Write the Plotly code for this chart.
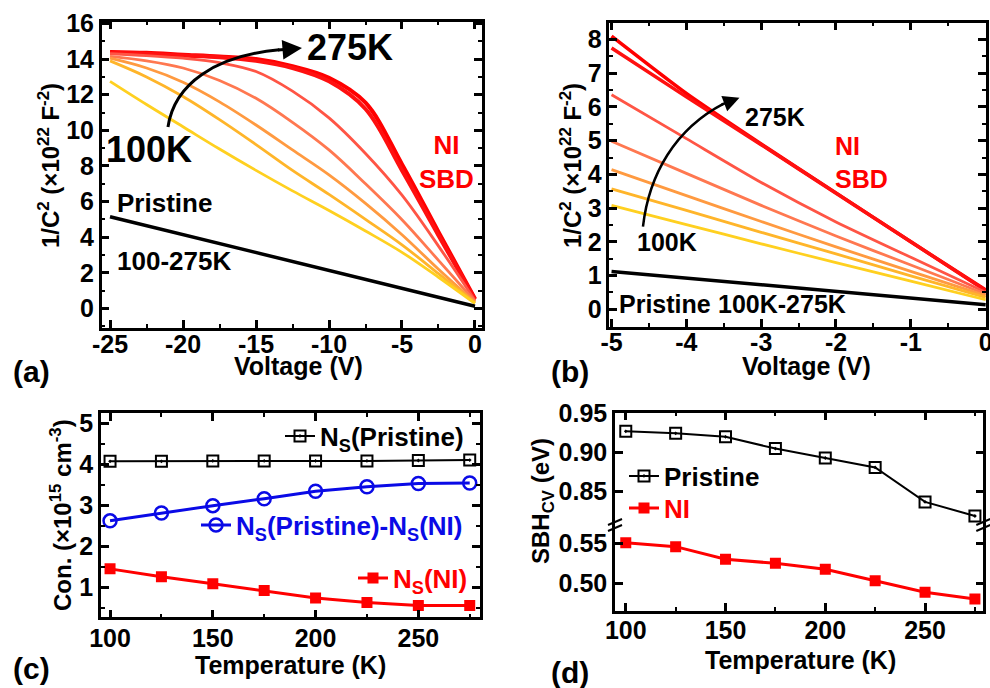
import plotly.graph_objects as go

FONT = "Liberation Sans"
W, H = 990, 688

def px(x):
    return x / W

def py(y):
    return 1 - y / H

# ---------------- data ----------------
# panel (a): 1/C^2 vs voltage, -25..0 V
volt_a = [-25, -22.5, -20, -17.5, -15, -12.5, -10, -7.5, -5, -2.5, 0]
ni_a_275 = [14.4, 14.35, 14.25, 14.15, 14.0, 13.6, 12.95, 11.55, 8.1, 4.3, 0.55]
ni_a_250 = [14.35, 14.3, 14.2, 14.1, 13.9, 13.5, 12.75, 11.2, 7.75, 4.1, 0.5]
ni_a_225 = [14.3, 14.2, 14.05, 13.8, 13.3, 12.2, 10.7, 8.7, 6.36, 3.5, 0.45]
ni_a_200 = [14.15, 13.9, 13.5, 12.8, 11.8, 10.45, 8.9, 7.0, 4.98, 2.7, 0.4]
ni_a_175 = [14.05, 13.5, 12.7, 11.6, 10.3, 8.9, 7.5, 5.9, 4.14, 2.2, 0.35]
ni_a_150 = [13.9, 13.0, 11.9, 10.6, 9.2, 7.75, 6.4, 5.0, 3.57, 1.95, 0.3]
ni_a_100 = [12.75, 11.45, 10.2, 8.95, 7.75, 6.6, 5.5, 4.35, 3.15, 1.75, 0.28]
volt_a_pr = [-25, -20, -15, -10, -5, 0]
pristine_a = [5.15, 4.15, 3.15, 2.15, 1.12, 0.12]
ticks_a_x = [-25, -20, -15, -10, -5, 0]
ticks_a_x_text = ["-25", "-20", "-15", "-10", "-5", "0"]

# panel (b): 1/C^2 vs voltage, -5..0 V
volt_b = [-5, -4, -3, -2, -1, 0]
ni_b_275 = [8.10, 6.40, 4.90, 3.45, 2.0, 0.57]
ni_b_250 = [7.75, 6.30, 4.88, 3.44, 2.0, 0.55]
ni_b_225 = [6.36, 5.06, 3.76, 2.59, 1.54, 0.50]
ni_b_200 = [4.98, 4.03, 3.08, 2.17, 1.31, 0.45]
ni_b_175 = [4.14, 3.37, 2.60, 1.85, 1.12, 0.40]
ni_b_150 = [3.57, 2.93, 2.28, 1.64, 0.99, 0.35]
ni_b_100 = [3.08, 2.51, 1.94, 1.38, 0.83, 0.28]
pristine_b = [1.12, 0.92, 0.72, 0.53, 0.33, 0.13]
ticks_b_x = [-5, -4, -3, -2, -1, 0]
ticks_b_x_text = ["-5", "-4", "-3", "-2", "-1", "0"]

curve_colors = ["#FF0000", "#FF1010", "#FF5545", "#FF7850", "#FF9A40", "#FFB52A", "#FFD020"]
curve_widths = [4, 4, 2.8, 2.8, 2.8, 2.8, 2.8]

# panel (c): concentrations vs temperature
temp = [100, 125, 150, 175, 200, 225, 250, 275]
ns_pristine = [4.07, 4.07, 4.08, 4.08, 4.08, 4.08, 4.09, 4.10]
ns_diff = [2.62, 2.81, 2.99, 3.16, 3.34, 3.45, 3.53, 3.54]
ns_ni = [1.45, 1.26, 1.09, 0.92, 0.74, 0.63, 0.56, 0.56]

# panel (d): SBH vs temperature
sbh_pristine = [0.927, 0.9245, 0.920, 0.905, 0.893, 0.881, 0.837, 0.819]
sbh_ni = [0.5508, 0.5458, 0.530, 0.525, 0.5175, 0.5033, 0.4888, 0.4804]

fig = go.Figure()

# ---- panel (a)
a_sets = [ni_a_275, ni_a_250, ni_a_225, ni_a_200, ni_a_175, ni_a_150, ni_a_100]
for vals, c, w in zip(a_sets, curve_colors, curve_widths):
    fig.add_trace(go.Scatter(x=volt_a, y=vals, mode="lines", xaxis="x", yaxis="y",
                             line=dict(color=c, width=w, shape="spline", smoothing=1.0),
                             showlegend=False, hoverinfo="skip"))
fig.add_trace(go.Scatter(x=volt_a_pr, y=pristine_a, mode="lines", xaxis="x", yaxis="y",
                         line=dict(color="black", width=3.5), showlegend=False))

# ---- panel (b)
b_sets = [ni_b_275, ni_b_250, ni_b_225, ni_b_200, ni_b_175, ni_b_150, ni_b_100]
for vals, c, w in zip(b_sets, curve_colors, curve_widths):
    fig.add_trace(go.Scatter(x=volt_b, y=vals, mode="lines", xaxis="x2", yaxis="y2",
                             line=dict(color=c, width=min(w, 3.5), shape="spline", smoothing=0.6),
                             showlegend=False, hoverinfo="skip"))
fig.add_trace(go.Scatter(x=volt_b, y=pristine_b, mode="lines", xaxis="x2", yaxis="y2",
                         line=dict(color="black", width=3.5), showlegend=False))

# ---- panel (c)
fig.add_trace(go.Scatter(x=temp, y=ns_pristine, mode="lines+markers", xaxis="x3", yaxis="y3",
                         name="N<sub>S</sub>(Pristine)", legend="legend",
                         line=dict(color="black", width=2),
                         marker=dict(symbol="square-open-dot", size=11, color="black",
                                     line=dict(width=2, color="black"))))
fig.add_trace(go.Scatter(x=temp, y=ns_diff, mode="lines+markers", xaxis="x3", yaxis="y3",
                         name="N<sub>S</sub>(Pristine)-N<sub>S</sub>(NI)", legend="legend2",
                         line=dict(color="#0A0AE6", width=3),
                         marker=dict(symbol="circle-open", size=13, color="#0A0AE6",
                                     line=dict(width=2.5, color="#0A0AE6"))))
fig.add_trace(go.Scatter(x=temp, y=ns_ni, mode="lines+markers", xaxis="x3", yaxis="y3",
                         name="N<sub>S</sub>(NI)", legend="legend3",
                         line=dict(color="#FF0000", width=3),
                         marker=dict(symbol="square", size=11, color="#FF0000")))

# ---- panel (d)
fig.add_trace(go.Scatter(x=temp, y=sbh_pristine, mode="lines+markers", xaxis="x5", yaxis="y5",
                         name="Pristine", legend="legend4",
                         line=dict(color="black", width=2),
                         marker=dict(symbol="square-open-dot", size=11, color="black",
                                     line=dict(width=2, color="black"))))
fig.add_trace(go.Scatter(x=temp, y=sbh_ni, mode="lines+markers", xaxis="x4", yaxis="y4",
                         name="NI", legend="legend5",
                         line=dict(color="#FF0000", width=3),
                         marker=dict(symbol="square", size=11, color="#FF0000")))

tickfont = dict(family=FONT, size=25, color="black", weight="bold")

def axis(domain, rng, dtick, minor_dtick=None, anchor=None, mirror="allticks", **kw):
    d = dict(domain=domain, range=rng, dtick=dtick, tick0=0, showline=True, linewidth=2.5,
             linecolor="black", mirror=mirror, ticks="inside", ticklen=8, tickwidth=2.5,
             tickcolor="black", showgrid=False, zeroline=False, tickfont=tickfont,
             anchor=anchor, fixedrange=True, automargin=False, ticklabeloverflow="allow")
    if minor_dtick:
        d["minor"] = dict(dtick=minor_dtick, ticks="inside", ticklen=4, tickwidth=2,
                          tickcolor="black", showgrid=False)
    d.update(kw)
    return d

fig.update_layout(
    width=W, height=H, margin=dict(l=0, r=0, t=0, b=0, pad=0, autoexpand=False),
    paper_bgcolor="white", plot_bgcolor="white",
    font=dict(family=FONT, size=25, color="black", weight="bold"),
    xaxis=axis([px(101.7), px(481.7)], [-25.57, 0.46], 5, 2.5, anchor="y",
               tickmode="array", tickvals=ticks_a_x, ticktext=ticks_a_x_text,
               ticklabelstandoff=-8),
    yaxis=axis([py(328), py(21.7)], [-1.1, 16.1], 2, 1, anchor="x"),
    xaxis2=axis([px(609.3), px(986)], [-5.03, 0.005], 1, 0.5, anchor="y2",
                tickmode="array", tickvals=ticks_b_x, ticktext=ticks_b_x_text,
                ticklabelstandoff=-8),
    yaxis2=axis([py(326.7), py(22.7)], [-0.52, 8.5], 1, 0.5, anchor="x2"),
    xaxis3=axis([px(101), px(480)], [95.6, 280], 50, 25, anchor="y3", ticklabelstandoff=-3),
    yaxis3=axis([py(617.3), py(413.3)], [0.27, 5.24], 1, 0.5, anchor="x3"),
    xaxis4=axis([px(615), px(983.3)], [94.6, 279.2], 50, 25, anchor="y4", mirror=False,
                ticklabelstandoff=-4),
    yaxis4=axis([py(610.7), py(525)], [0.4657, 0.5729], 0.05, None, anchor="x4",
                tickformat=".2f"),
    xaxis5=axis([px(615), px(983.3)], [94.6, 279.2], 50, 25, anchor="y5", mirror=False,
                side="top", showticklabels=False),
    yaxis5=axis([py(525), py(412.7)], [0.8075, 0.9508], 0.05, None, anchor="x5",
                tickformat=".2f"),
)

leg_common = dict(bgcolor="rgba(0,0,0,0)", borderwidth=0, itemwidth=30,
                  yanchor="middle", xanchor="left", tracegroupgap=0,
                  itemclick=False, itemdoubleclick=False)
fig.update_layout(
    legend=dict(x=px(280), y=py(436), font=dict(family=FONT, size=26, color="black", weight="bold"), **leg_common),
    legend2=dict(x=px(196), y=py(525), font=dict(family=FONT, size=26, color="#0A0AE6", weight="bold"), **leg_common),
    legend3=dict(x=px(353), y=py(578), font=dict(family=FONT, size=26, color="#FF0000", weight="bold"), **leg_common),
    legend4=dict(x=px(624), y=py(476), font=dict(family=FONT, size=26, color="black", weight="bold"), **leg_common),
    legend5=dict(x=px(624), y=py(508), font=dict(family=FONT, size=26, color="#FF0000", weight="bold"), **leg_common),
)

anns = []

def text(t, x, y, size=25, color="black", angle=0, xanchor="center", align="center"):
    anns.append(dict(text=t, x=px(x), y=py(y), xref="paper", yref="paper", showarrow=False,
                     textangle=angle, xanchor=xanchor, yanchor="middle", align=align,
                     font=dict(family=FONT, size=size, color=color, weight="bold")))

# axis titles
text("Voltage (V)", 298, 366, 25)
text("1/C<sup>2</sup> (×10<sup>22</sup> F<sup>-2</sup>)", 49, 166, 24, angle=-90)
text("Voltage (V)", 806, 366, 25)
text("1/C<sup>2</sup> (×10<sup>22</sup> F<sup>-2</sup>)", 571, 166, 24, angle=-90)
text("Temperature (K)", 290, 665, 25)
text("Con. (×10<sup>15</sup> cm<sup>-3</sup>)", 61, 515, 24, angle=-90)
text("Temperature (K)", 800, 660, 25)
text("SBH<sub>CV</sub> (eV)", 542, 501, 24, angle=-90)
# panel letters
text("(a)", 31, 371, 30)
text("(b)", 570, 371, 30)
text("(c)", 31, 668, 30)
text("(d)", 570, 672, 30)
# panel (a) labels
text("275K", 350, 47, 36)
text("100K", 149, 149, 36)
text("NI<br>SBD", 446, 162, 26, color="#FF0000")
text("Pristine", 164, 203, 26)
text("100-275K", 174, 261, 26)
# panel (b) labels
text("275K", 775, 117, 25)
text("100K", 667, 242, 25)
text("NI<br>SBD", 833, 163, 25, color="#FF0000", xanchor="left", align="left")
text("Pristine", 665, 304, 25)
text("100K-275K", 782, 304, 25)

# arrowheads
anns.append(dict(x=-11.85, y=14.62, ax=-13.6, ay=14.5, xref="x", yref="y", axref="x", ayref="y",
                 text="", showarrow=True, arrowhead=2, arrowsize=1.3, arrowwidth=3, arrowcolor="black"))
anns.append(dict(x=-3.29, y=6.27, ax=-3.55, ay=6.05, xref="x2", yref="y2", axref="x2", ayref="y2",
                 text="", showarrow=True, arrowhead=2, arrowsize=1.3, arrowwidth=2.5, arrowcolor="black"))
fig.update_layout(annotations=anns)

shapes = [
    dict(type="path", xref="x", yref="y", line=dict(color="black", width=3),
         path="M -21.03,10.19 C -20.6,12.6 -17.8,14.2 -13.4,14.52"),
    dict(type="path", xref="x2", yref="y2", line=dict(color="black", width=2.5),
         path="M -4.58,2.45 C -4.5,4.0 -4.15,5.35 -3.5,6.1"),
]
# axis break marks on panel (d)
for xb in (615, 983.3):
    for dy in (-3, 3):
        shapes.append(dict(type="line", xref="paper", yref="paper",
                           x0=px(xb - 7), y0=py(525 + dy + 3), x1=px(xb + 7), y1=py(525 + dy - 3),
                           line=dict(color="black", width=2)))
fig.update_layout(shapes=shapes)

fig.write_html("out.html")
